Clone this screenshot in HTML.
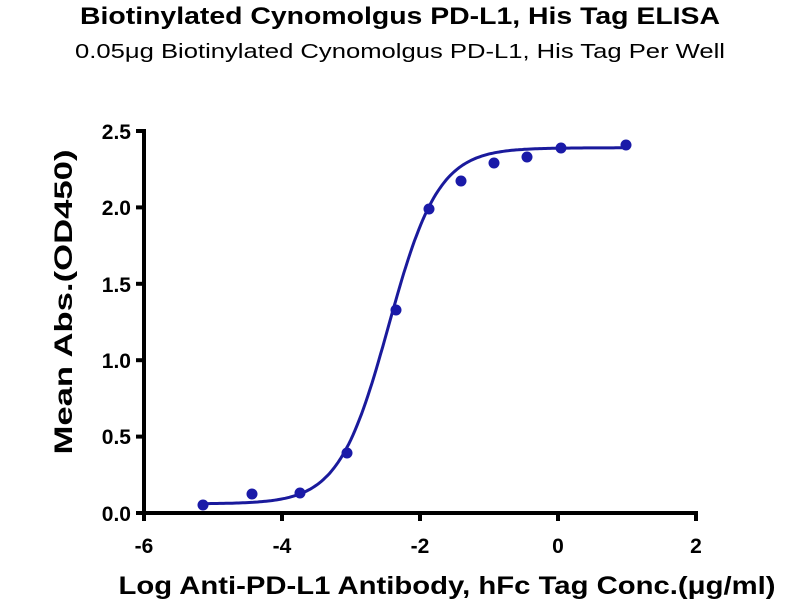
<!DOCTYPE html>
<html><head><meta charset="utf-8"><style>
body{margin:0;background:#fff;width:800px;height:600px;overflow:hidden}
svg{font-family:"Liberation Sans",Arial,sans-serif}
</style></head><body>
<svg id="s" width="800" height="600" xmlns="http://www.w3.org/2000/svg">
<text x="400" y="24" text-anchor="middle" font-size="24" font-weight="bold" textLength="640" lengthAdjust="spacingAndGlyphs">Biotinylated Cynomolgus PD-L1, His Tag ELISA</text>
<text x="400" y="58" text-anchor="middle" font-size="20" textLength="650" lengthAdjust="spacingAndGlyphs">0.05μg Biotinylated Cynomolgus PD-L1, His Tag Per Well</text>
<g stroke="#000" stroke-width="4" fill="none">
<line x1="144" y1="129" x2="144" y2="515"/>
<line x1="142" y1="513" x2="698" y2="513"/>
<line x1="136" y1="131" x2="144" y2="131"/>
<line x1="136" y1="207.4" x2="144" y2="207.4"/>
<line x1="136" y1="283.8" x2="144" y2="283.8"/>
<line x1="136" y1="360.2" x2="144" y2="360.2"/>
<line x1="136" y1="436.6" x2="144" y2="436.6"/>
<line x1="136" y1="513" x2="144" y2="513"/>
<line x1="144" y1="513" x2="144" y2="521"/>
<line x1="282" y1="513" x2="282" y2="521"/>
<line x1="420" y1="513" x2="420" y2="521"/>
<line x1="558" y1="513" x2="558" y2="521"/>
<line x1="696" y1="513" x2="696" y2="521"/>
</g>
<g font-size="21" font-weight="bold" text-anchor="end">
<text x="131" y="139">2.5</text><text x="131" y="215">2.0</text><text x="131" y="292">1.5</text>
<text x="131" y="368">1.0</text><text x="131" y="444">0.5</text><text x="131" y="521">0.0</text>
</g>
<g font-size="21" font-weight="bold" text-anchor="middle">
<text x="144" y="553">-6</text><text x="282" y="553">-4</text><text x="420" y="553">-2</text>
<text x="558" y="553">0</text><text x="696" y="553">2</text>
</g>
<text x="447" y="594" text-anchor="middle" font-size="25" font-weight="bold" textLength="657" lengthAdjust="spacingAndGlyphs">Log Anti-PD-L1 Antibody, hFc Tag Conc.(μg/ml)</text>
<text transform="translate(72,302) rotate(-90)" text-anchor="middle" font-size="25" font-weight="bold" textLength="305" lengthAdjust="spacingAndGlyphs">Mean Abs.(OD450)</text>
<path id="c" fill="none" stroke="#1a1a9c" stroke-width="3"/>
<g fill="#1a1aa8">
<circle cx="203" cy="505" r="5.5"/><circle cx="252" cy="494" r="5.5"/><circle cx="300" cy="493" r="5.5"/>
<circle cx="347" cy="453" r="5.5"/><circle cx="396" cy="310" r="5.5"/><circle cx="429" cy="209" r="5.5"/>
<circle cx="461" cy="181" r="5.5"/><circle cx="494" cy="163" r="5.5"/><circle cx="527" cy="157" r="5.5"/>
<circle cx="561" cy="148" r="5.5"/><circle cx="626" cy="145" r="5.5"/>
</g>
</svg>
<script>
var d="";for(var i=0;i<=200;i++){var x=-5.15+i*(6.15/200);var y=0.06+2.33/(1+Math.pow(10,( -2.45-x)*1.2));
var px=144+(x+6)*68.9,py=513-y*152.8;d+=(i?"L":"M")+px.toFixed(1)+","+py.toFixed(1);}
document.getElementById("c").setAttribute("d",d);
</script>
</body></html>
